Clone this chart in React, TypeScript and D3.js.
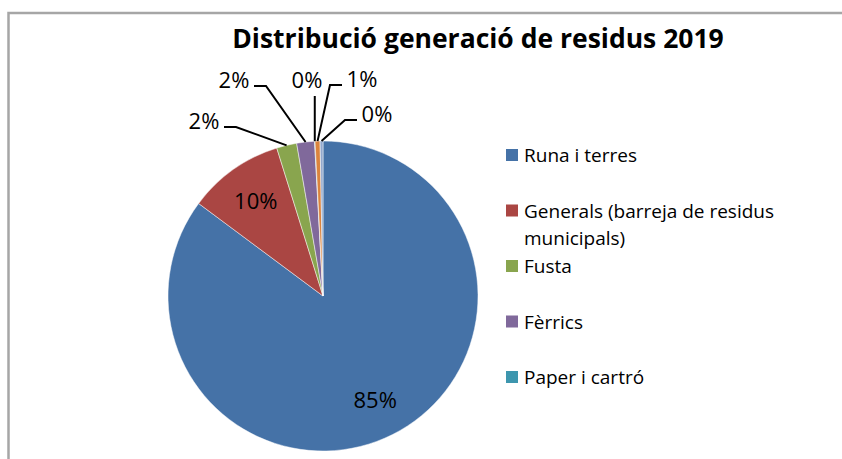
import React from "react";
import * as d3 from "d3";

// pie data (percent of total generated waste)
const categories = [
  "Runa i terres",
  "Generals (barreja de residus municipals)",
  "Fusta",
  "Fèrrics",
  "Paper i cartró",
  "Plàstics",
  "Altres",
];
const values = [85.18, 10.0, 2.1, 1.85, 0.05, 0.52, 0.3];
const colors = ["#4572A7", "#AA4643", "#89A54E", "#80699B", "#3D96AE", "#DB843D", "#92A8CD"];
const legendShown = 5; // legend box only fits the first five entries
const title = "Distribució generació de residus 2019";

const W = 842;
const H = 459;
const cx = 323;
const cy = 296;
const R = 155;
const font = "'Open Sans', 'Noto Sans', sans-serif";

// hand placed positions of the outside (small slice) labels
const outsideLabelPos: Record<number, [number, number]> = {
  2: [204, 121],
  3: [234, 80],
  4: [307, 80],
  5: [362, 79],
  6: [377, 114],
};

const wrap = (s: string, max: number) => {
  const lines: string[] = [];
  let cur = "";
  s.split(" ").forEach((w) => {
    if (cur && (cur + " " + w).length > max) {
      lines.push(cur);
      cur = w;
    } else cur = cur ? cur + " " + w : w;
  });
  if (cur) lines.push(cur);
  return lines;
};

const App = () => {
  const total = d3.sum(values);
  const pie = d3.pie<number>().sort(null).value((d) => d);
  const arcs = pie(values);
  const arc = d3.arc<d3.PieArcDatum<number>>().innerRadius(0).outerRadius(R);
  const labelArc = d3.arc<d3.PieArcDatum<number>>().innerRadius(R * 0.75).outerRadius(R * 0.75);
  const fmt = (v: number) => d3.format(".0%")(v / total);

  const legendY = d3.scaleLinear().domain([0, 1]).range([155, 210.5]);

  return (
    <svg width={W} height={H} style={{ position: "absolute", left: 0, top: 0 }}>
      <rect width={W} height={H} fill="#fff" />
      <path d={`M8.5,${H + 5}V13H${W + 5}`} fill="none" stroke="#A6A6A6" strokeWidth={2.5} />
      <text x={478} y={48} textAnchor="middle" fontFamily={font} fontWeight="bold" fontSize={26.5} fill="#000">
        {title}
      </text>
      <g transform={`translate(${cx},${cy})`}>
        {arcs.map((a, i) => (
          <path key={i} d={arc(a) || ""} fill={colors[i]} stroke="#fff" strokeWidth={0.6} strokeOpacity={0.8} />
        ))}
      </g>
      {arcs.map((a, i) => {
        const pos = outsideLabelPos[i];
        if (!pos) {
          const [x, y] = labelArc.centroid(a);
          return (
            <text key={i} x={cx + x} y={cy + y} dy="0.36em" textAnchor="middle" fontFamily={font} fontSize={22} fill="#000">
              {fmt(a.value)}
            </text>
          );
        }
        const mid = (a.startAngle + a.endAngle) / 2;
        const px = cx + R * Math.sin(mid);
        const py = cy - R * Math.cos(mid);
        const [lx, ly] = pos;
        const half = 16;
        let leader: string;
        if (Math.abs(px - lx) < 12) {
          leader = `M${px},${ly + 16}L${px},${py}`;
        } else if (lx < px) {
          const x0 = lx + half + 4;
          leader = `M${x0},${ly + 6}H${x0 + 12}L${px},${py}`;
        } else {
          const x0 = lx - half - 4;
          leader = `M${x0},${ly + 6}H${x0 - 12}L${px},${py}`;
        }
        return (
          <g key={i}>
            <path d={leader} fill="none" stroke="#000" strokeWidth={2} />
            <text x={lx} y={ly} dy="0.36em" textAnchor="middle" fontFamily={font} fontSize={22} fill="#000">
              {fmt(a.value)}
            </text>
          </g>
        );
      })}
      <g>
        {categories.slice(0, legendShown).map((c, i) => {
          const y = legendY(i);
          const lines = wrap(c, 28);
          return (
            <g key={c}>
              <rect x={506} y={y - 6} width={12} height={12} fill={colors[i]} />
              <text x={524} y={y + 7} fontFamily={font} fontSize={19} fill="#000">
                {lines.map((l, j) => (
                  <tspan key={j} x={524} dy={j === 0 ? 0 : 27}>
                    {l}
                  </tspan>
                ))}
              </text>
            </g>
          );
        })}
      </g>
    </svg>
  );
};

export default App;
